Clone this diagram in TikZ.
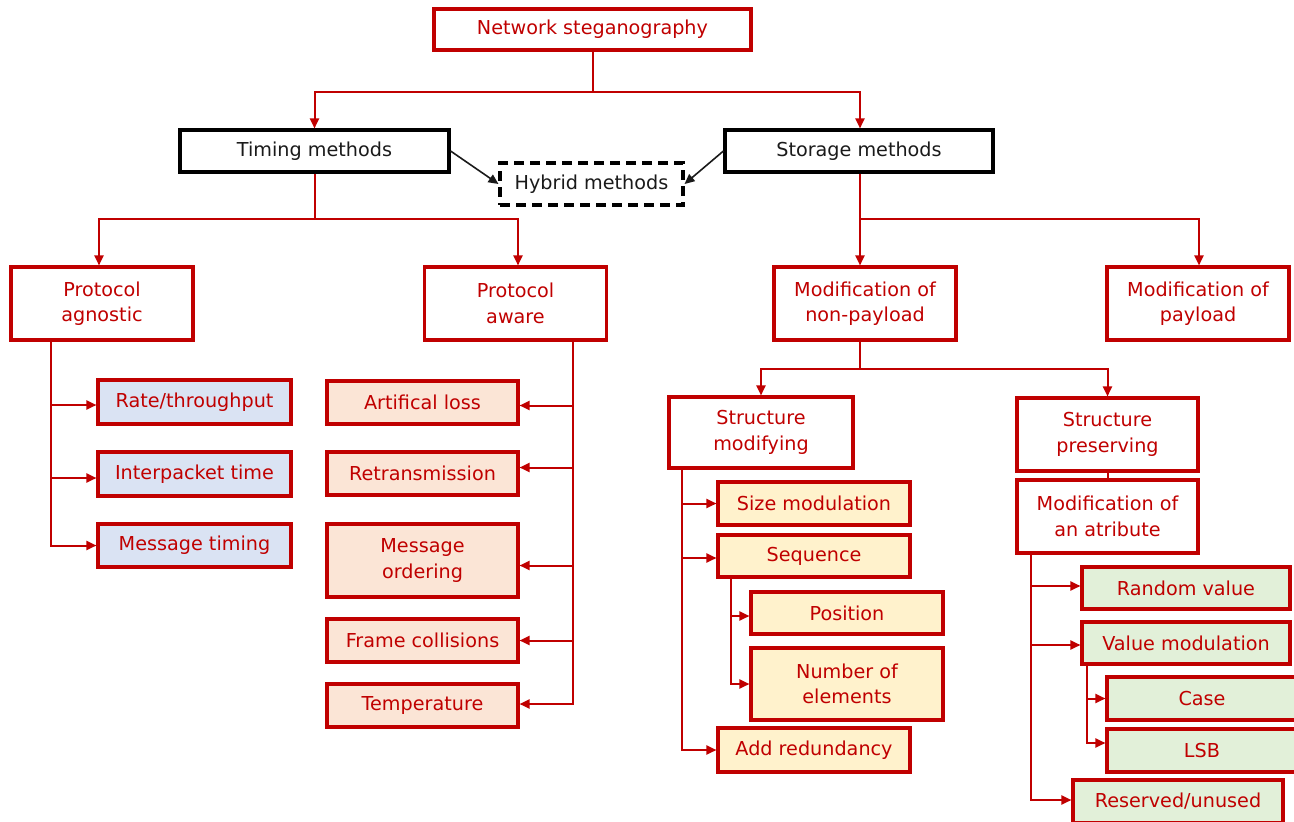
\documentclass[tikz,border=0pt]{standalone}
\usepackage{fontspec}
\setmainfont{DejaVu Sans}
\usetikzlibrary{arrows.meta}
\definecolor{dred}{HTML}{C00000}
\definecolor{fblue}{HTML}{DAE3F3}
\definecolor{fpeach}{HTML}{FBE5D6}
\definecolor{fyellow}{HTML}{FFF2CC}
\definecolor{fgreen}{HTML}{E2F0D9}
\definecolor{tblack}{HTML}{1A1A1A}
\tikzset{
  base/.style={rectangle, inner sep=0pt, align=center,
    font=\fontsize{19.2}{25.5}\selectfont, line width=3.1pt},
  rbox/.style={base, draw=dred, text=dred, fill=white},
  kbox/.style={base, draw=black, text=tblack, fill=white},
  hbox/.style={base, draw=black, text=tblack, fill=white, dash pattern=on 10pt off 6pt},
  bluebox/.style={rbox, fill=fblue},
  peachbox/.style={rbox, fill=fpeach},
  yelbox/.style={rbox, fill=fyellow},
  greenbox/.style={rbox, fill=fgreen},
  conn/.style={draw=dred, line width=2pt, -{Triangle[length=10pt,width=9pt]}},
  line/.style={draw=dred, line width=2pt},
  blk/.style={draw=tblack, line width=1.6pt, -{Triangle[length=10pt,width=9pt]}},
}
\begin{document}
\begin{tikzpicture}[x=1pt,y=-1pt]
\useasboundingbox (0,0) rectangle (1294,822);
\clip (0,0) rectangle (1294,822);
% top level
\node[rbox, minimum width=317, minimum height=41] (top) at (592.5,29.5) {Network steganography};
\node[kbox, minimum width=269, minimum height=42] (timing) at (314.5,151) {Timing methods};
\node[kbox, minimum width=268, minimum height=42] (storage) at (859,151) {Storage methods};
\node[hbox, minimum width=183, minimum height=42] (hybrid) at (591.5,184) {Hybrid methods};
% second level
\node[rbox, minimum width=182, minimum height=73] (pagn) at (102,303.5) {Protocol\\agnostic};
\node[rbox, minimum width=182, minimum height=73] (paware) at (515.5,303.5) {Protocol\\aware};
\node[rbox, minimum width=182, minimum height=73] (nonpay) at (865,303.5) {Modification of\\non-payload};
\node[rbox, minimum width=182, minimum height=73] (pay) at (1198,303.5) {Modification of\\payload};
% protocol agnostic children
\node[bluebox, minimum width=193, minimum height=44] (rate) at (194.5,402) {Rate/throughput};
\node[bluebox, minimum width=193, minimum height=44] (inter) at (194.5,474) {Interpacket time};
\node[bluebox, minimum width=193, minimum height=43] (msgt) at (194.5,545.5) {Message timing};
% protocol aware children
\node[peachbox, minimum width=191, minimum height=43] (art) at (422.5,402.5) {Artifical loss};
\node[peachbox, minimum width=191, minimum height=43] (retr) at (422.5,473.5) {Retransmission};
\node[peachbox, minimum width=191, minimum height=73] (mord) at (422.5,560.5) {Message\\ordering};
\node[peachbox, minimum width=191, minimum height=43] (frame) at (422.5,640.5) {Frame collisions};
\node[peachbox, minimum width=191, minimum height=43] (temp) at (422.5,705.5) {Temperature};
% non-payload children
\node[rbox, minimum width=184, minimum height=71] (smod) at (761,432.5) {Structure\\modifying};
\node[rbox, minimum width=181, minimum height=73] (spres) at (1107.5,434.5) {Structure\\preserving};
\node[rbox, minimum width=181, minimum height=73] (mattr) at (1107.5,516.5) {Modification of\\an atribute};
% structure modifying children
\node[yelbox, minimum width=192, minimum height=43] (size) at (814,503.5) {Size modulation};
\node[yelbox, minimum width=192, minimum height=42] (seq) at (814,556) {Sequence};
\node[yelbox, minimum width=192, minimum height=42] (pos) at (847,613) {Position};
\node[yelbox, minimum width=192, minimum height=72] (numel) at (847,684) {Number of\\elements};
\node[yelbox, minimum width=192, minimum height=44] (addr) at (814,750) {Add redundancy};
% modification of an attribute children
\node[greenbox, minimum width=208, minimum height=42] (rand) at (1186,588) {Random value};
\node[greenbox, minimum width=208, minimum height=42] (valm) at (1186,643) {Value modulation};
\node[greenbox, minimum width=190, minimum height=43] (case) at (1202,698.5) {Case};
\node[greenbox, minimum width=190, minimum height=43] (lsb) at (1202,750.5) {LSB};
\node[greenbox, minimum width=210, minimum height=43] (resv) at (1178,801.5) {Reserved/unused};
% connectors level 1
\path (top.south) ++(0,40) coordinate (j1);
\draw[line] (top.south) -- (j1);
\draw[conn] (j1) -| (timing.north);
\draw[conn] (j1) -| ([xshift=1pt]storage.north);
\draw[blk] (timing.east) -- (hybrid.west);
\draw[blk] (storage.west) -- (hybrid.east);
% timing split
\path (timing.south) ++(0,45) coordinate (j2);
\draw[line] (timing.south) -- (j2);
\draw[conn] (j2) -| ([xshift=-3pt]pagn.north);
\draw[conn] (j2) -| ([xshift=2.5pt]paware.north);
% storage split
\path ([xshift=1pt]storage.south) ++(0,45) coordinate (j3);
\draw[line] ([xshift=1pt]storage.south) -- (j3);
\draw[conn] (j3) -| ([xshift=-5pt]nonpay.north);
\draw[conn] (j3) -| ([xshift=1pt]pay.north);
% protocol agnostic
\draw[conn] ([xshift=-51pt]pagn.south) |- ([yshift=-3pt]rate.west);
\draw[conn] ([xshift=-51pt]pagn.south) |- ([yshift=-4pt]inter.west);
\draw[conn] ([xshift=-51pt]pagn.south) |- (msgt.west);
% protocol aware
\draw[conn] ([xshift=57.5pt]paware.south) |- ([yshift=-3pt]art.east);
\draw[conn] ([xshift=57.5pt]paware.south) |- ([yshift=6pt]retr.east);
\draw[conn] ([xshift=57.5pt]paware.south) |- ([yshift=-5pt]mord.east);
\draw[conn] ([xshift=57.5pt]paware.south) |- (frame.east);
\draw[conn] ([xshift=57.5pt]paware.south) |- ([yshift=1.5pt]temp.east);
% non-payload split
\path ([xshift=-5pt]nonpay.south) ++(0,27) coordinate (j4);
\draw[line] ([xshift=-5pt]nonpay.south) -- (j4);
\draw[conn] (j4) -| (smod.north);
\draw[conn] (j4) -| (spres.north);
\draw[line] (spres.south) -- (mattr.north);
% structure modifying
\draw[conn] ([xshift=15pt]smod.south west) |- (size.west);
\draw[conn] ([xshift=15pt]smod.south west) |- ([yshift=-2pt]seq.west);
\draw[conn] ([xshift=15pt]smod.south west) |- (addr.west);
\draw[conn] ([xshift=15pt]seq.south west) |- ([yshift=-3pt]pos.west);
\draw[conn] ([xshift=15pt]seq.south west) |- (numel.west);
% modification of an attribute
\draw[conn] ([xshift=16pt]mattr.south west) |- ([yshift=2pt]rand.west);
\draw[conn] ([xshift=16pt]mattr.south west) |- ([yshift=-2pt]valm.west);
\draw[conn] ([xshift=16pt]mattr.south west) |- ([yshift=1.5pt]resv.west);
\draw[conn] ([xshift=7pt]valm.south west) |- (case.west);
\draw[conn] ([xshift=7pt]valm.south west) |- ([yshift=7.5pt]lsb.west);
\end{tikzpicture}
\end{document}
